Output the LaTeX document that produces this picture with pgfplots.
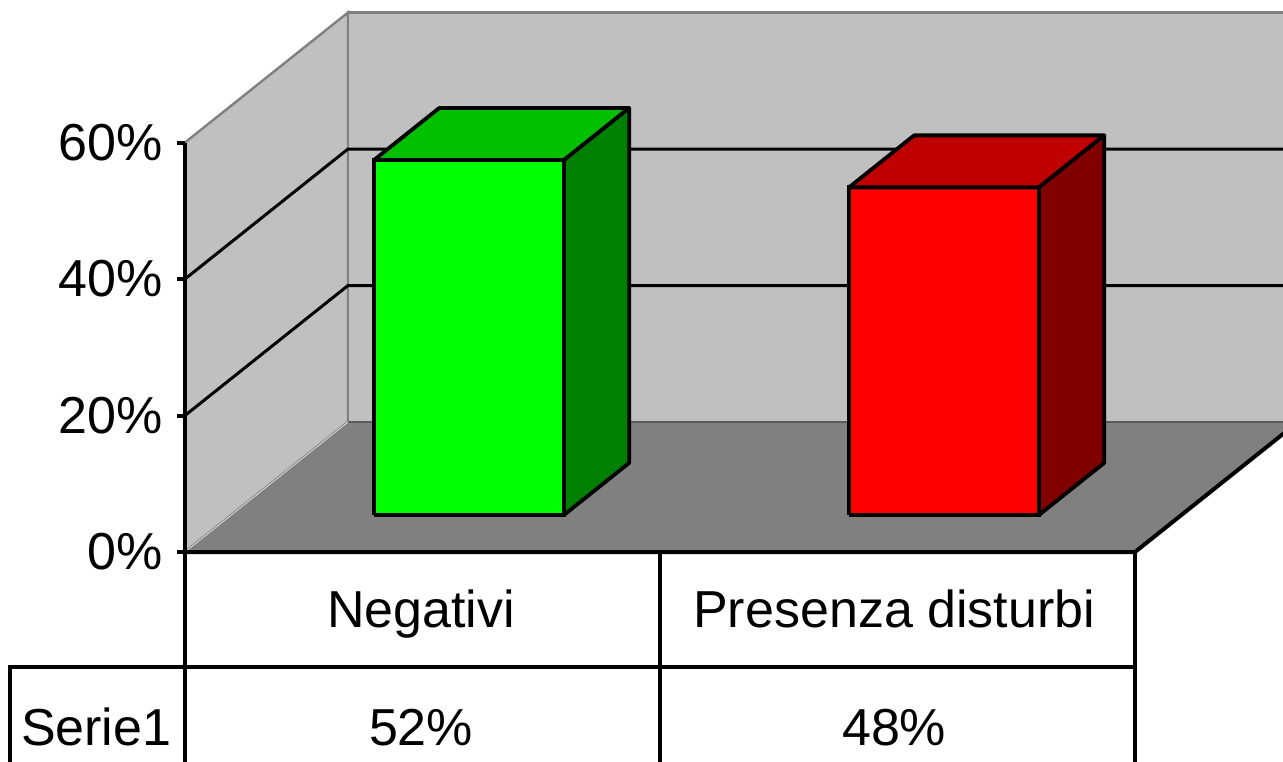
\documentclass[border=0pt]{standalone}
\usepackage{pgfplots}
\pgfplotsset{compat=1.18}
\usepackage{fontspec}
\setmainfont{Liberation Sans}
\definecolor{wallgray}{HTML}{C0C0C0}
\definecolor{floorgray}{HTML}{808080}
\definecolor{edgegray}{HTML}{808080}
\definecolor{gfront}{HTML}{00FF00}
\definecolor{gtop}{HTML}{00C000}
\definecolor{gside}{HTML}{008000}
\definecolor{rfront}{HTML}{FF0000}
\definecolor{rtop}{HTML}{C00000}
\definecolor{rside}{HTML}{800000}
\begin{document}
\begin{tikzpicture}[every node/.append style={font=\fontsize{26}{31}\selectfont, inner sep=0pt}]
\path[use as bounding box] (-92.5pt,-104.5pt) rectangle (549pt,276pt);
\clip (-92.5pt,-104.5pt) rectangle (549pt,276pt);
\begin{axis}[
  at={(0pt,0pt)}, anchor=origin,
  x={(237.5pt,0pt)}, y={(81.5pt,65pt)}, z={(0pt,3.4125pt)},
  hide axis, clip=false,
  xmin=-0.4, xmax=2.1, ymin=0, ymax=1, zmin=-35, zmax=60,
]
% side wall
\addplot3[fill=wallgray, draw=edgegray, line width=1.2pt] coordinates
  {(0,0,0) (0,1,0) (0,1,60) (0,0,60) (0,0,0)};
% back wall
\addplot3[fill=wallgray, draw=edgegray, line width=1.2pt] coordinates
  {(0,1,0) (2.1,1,0) (2.1,1,60) (0,1,60) (0,1,0)};
% floor
\addplot3[fill=floorgray, draw=edgegray!70!black, line width=0.9pt] coordinates
  {(0,0,0) (2,0,0) (2,1,0) (0,1,0) (0,0,0)};
\addplot3[draw=wallgray!70!white, line width=0.6pt] coordinates {(0,0,0) (0,1,0)};
% gridlines
\addplot3[draw=black, line width=1.5pt] coordinates {(0,0,20) (0,1,20) (2.1,1,20)};
\addplot3[draw=black, line width=1.5pt] coordinates {(0,0,40) (0,1,40) (2.1,1,40)};
% floor front and right edges
\addplot3[draw=black, line width=2pt] coordinates {(0,0,0) (2,0,0) (2,1,0)};
% Bar 1: Negativi 52
\addplot3[fill=gfront, draw=black, line width=1.9pt] coordinates
  {(0.3,0.285,0) (0.7,0.285,0) (0.7,0.285,52) (0.3,0.285,52) (0.3,0.285,0)};
\addplot3[fill=gtop, draw=black, line width=1.9pt, line join=round] coordinates
  {(0.3,0.285,52) (0.7,0.285,52) (0.7,0.685,52) (0.3,0.685,52) (0.3,0.285,52)};
\addplot3[fill=gside, draw=black, line width=1.9pt, line join=round] coordinates
  {(0.7,0.285,0) (0.7,0.685,0) (0.7,0.685,52) (0.7,0.285,52) (0.7,0.285,0)};
% Bar 2: Presenza disturbi 48
\addplot3[fill=rfront, draw=black, line width=1.9pt] coordinates
  {(1.3,0.285,0) (1.7,0.285,0) (1.7,0.285,48) (1.3,0.285,48) (1.3,0.285,0)};
\addplot3[fill=rtop, draw=black, line width=1.9pt, line join=round] coordinates
  {(1.3,0.285,48) (1.7,0.285,48) (1.7,0.685,48) (1.3,0.685,48) (1.3,0.285,48)};
\addplot3[fill=rside, draw=black, line width=1.9pt, line join=round] coordinates
  {(1.7,0.285,0) (1.7,0.685,0) (1.7,0.685,48) (1.7,0.285,48) (1.7,0.285,0)};
% value axis
\addplot3[draw=black, line width=2pt] coordinates {(0,0,0) (0,0,60)};
\addplot3[draw=black, line width=2pt] coordinates {(-0.0168,0,0) (0,0,0)};
\addplot3[draw=black, line width=2pt] coordinates {(-0.0168,0,20) (0,0,20)};
\addplot3[draw=black, line width=2pt] coordinates {(-0.0168,0,40) (0,0,40)};
\addplot3[draw=black, line width=2pt] coordinates {(-0.0168,0,60) (0,0,60)};
\node[anchor=east] at (axis cs:-0.0463,0,0) {0\%};
\node[anchor=east] at (axis cs:-0.0463,0,20) {20\%};
\node[anchor=east] at (axis cs:-0.0463,0,40) {40\%};
\node[anchor=east] at (axis cs:-0.0463,0,60) {60\%};
% data table
\addplot3[draw=black, line width=2pt] coordinates {(0,0,0) (0,0,-40)};
\addplot3[draw=black, line width=2pt] coordinates {(1,0,0) (1,0,-40)};
\addplot3[draw=black, line width=2pt] coordinates {(2,0,0) (2,0,-40)};
\addplot3[draw=black, line width=2pt] coordinates {(-0.368,0,-40) (-0.368,0,-16.85) (2,0,-16.85)};
\node[anchor=base] at (axis cs:0.497,0,-11.1) {Negativi};
\node[anchor=base] at (axis cs:1.493,0,-11.1) {Presenza disturbi};
\node[anchor=base] at (axis cs:-0.187,0,-28.3) {Serie1};
\node[anchor=base] at (axis cs:0.497,0,-28.3) {52\%};
\node[anchor=base] at (axis cs:1.493,0,-28.3) {48\%};
\end{axis}
\end{tikzpicture}
\end{document}
